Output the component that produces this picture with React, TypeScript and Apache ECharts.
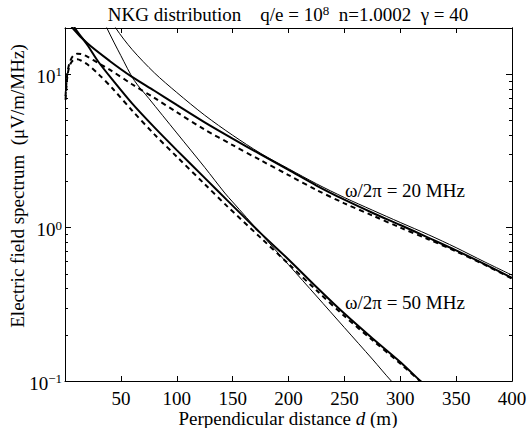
import React, { useEffect, useRef } from "react";
import * as echarts from "echarts";

// ---- axis ticks ----
const yMajorTicks = [0.1, 1, 10];
const yMinorTicks = [0.2, 0.3, 0.4, 0.5, 0.6, 0.7, 0.8, 0.9, 2, 3, 4, 5, 6, 7, 8, 9, 20];

// ---- 20 MHz curves (distance m, field µV/m/MHz) ----
const thick20D = [3, 7, 20, 40, 60, 80, 100, 125, 150, 175, 200, 225, 250, 275, 300, 325, 350, 375, 400];
const thick20E = [22.5, 19.9, 15.9, 12.2, 9.6, 7.8, 6.3, 4.85, 3.8, 3.0, 2.38, 1.88, 1.52, 1.25, 1.04, 0.86, 0.71, 0.58, 0.47];

const dashed20D = [0.5, 2, 4, 7, 11, 15, 20, 30, 40, 60, 80, 100, 125, 150, 175, 200, 225, 250, 275, 300, 325, 350, 375, 400];
const dashed20E = [7.2, 10.0, 11.8, 13.1, 13.6, 13.5, 13.0, 11.8, 10.7, 8.6, 7.0, 5.65, 4.35, 3.45, 2.75, 2.2, 1.76, 1.44, 1.2, 1.0, 0.84, 0.7, 0.575, 0.465];

const thin20D = [40, 45.6, 60, 80, 100, 125, 150, 175, 200, 225, 250, 275, 300, 325, 350, 375, 400];
const thin20E = [24, 19.9, 14.5, 10.2, 7.6, 5.4, 4.0, 3.05, 2.42, 1.93, 1.57, 1.3, 1.08, 0.9, 0.74, 0.6, 0.49];

// ---- 50 MHz curves ----
const thick50D = [5, 9, 20, 30, 43, 60, 80, 100, 125, 145, 175, 200, 225, 250, 275, 300, 318, 325];
const thick50E = [23, 19.9, 15.5, 12.0, 9.1, 6.45, 4.5, 3.2, 2.11, 1.51, 0.92, 0.62, 0.41, 0.275, 0.19, 0.133, 0.1, 0.09];

const dashed50D = [0.5, 2, 4, 7, 11, 15, 20, 30, 43, 60, 80, 100, 125, 145, 175, 200, 225, 250, 275, 300, 320, 328];
const dashed50E = [6.8, 9.5, 11.3, 12.3, 12.5, 12.2, 11.6, 10.0, 8.0, 5.8, 4.05, 2.9, 1.92, 1.38, 0.86, 0.58, 0.39, 0.265, 0.185, 0.13, 0.097, 0.09];

const thin50D = [33, 37.6, 50, 62, 75, 100, 125, 143, 150, 175, 200, 225, 250, 275, 292, 300];
const thin50E = [24, 19.9, 13.2, 9.1, 6.95, 4.14, 2.47, 1.68, 1.47, 0.918, 0.573, 0.358, 0.223, 0.139, 0.1, 0.088];

const FONT = "'Liberation Serif', 'DejaVu Serif', serif";
const NB = "\u00a0";

function pairs(d: number[], e: number[]) {
  return d.map((x, i) => [x, e[i]]);
}

function supLabel(v: number) {
  const exp = Math.round(Math.log10(v));
  const s = exp < 0 ? "\u2212" + String(-exp) : String(exp);
  return `{b|10}{s|${s}}`;
}

const richTick = {
  b: { fontSize: 19, fontFamily: FONT, color: "#000", lineHeight: 22 },
  s: { fontSize: 13, fontFamily: FONT, color: "#000", lineHeight: 8, verticalAlign: "top" },
};

const richTitle = {
  a: { fontSize: 19, fontFamily: FONT, fill: "#000", color: "#000", lineHeight: 20 },
  s: { fontSize: 13, fontFamily: FONT, fill: "#000", color: "#000", lineHeight: 8, verticalAlign: "top" },
};

const richName = {
  a: { fontSize: 19, fontFamily: FONT, color: "#000", lineHeight: 18 },
  i: { fontSize: 19, fontFamily: FONT, color: "#000", lineHeight: 18, fontStyle: "italic" },
};

export default function App() {
  const ref = useRef<HTMLDivElement>(null);
  useEffect(() => {
    if (!ref.current) return;
    const chart = echarts.init(ref.current, undefined, { renderer: "svg" });

    const axisLine = { show: true, onZero: false, lineStyle: { color: "#000", width: 1 } };

    const yBase = (position: string, ticks: number[], len: number, labels: boolean) => ({
      type: "log",
      logBase: 10,
      min: 0.1,
      max: 20,
      position,
      axisLine,
      splitLine: { show: false },
      axisTick: {
        show: true,
        inside: true,
        length: len,
        customValues: ticks,
        lineStyle: { color: "#000", width: 1 },
      },
      axisLabel: labels
        ? {
            show: true,
            customValues: yMajorTicks,
            margin: 3,
            padding: [4, 0, 0, 0],
            formatter: (v: number) => supLabel(v),
            rich: richTick,
          }
        : { show: false },
    });

    const lineSeries = (d: number[], e: number[], kind: "thick" | "thin" | "dashed") => ({
      type: "line",
      data: pairs(d, e),
      showSymbol: false,
      symbol: "none",
      smooth: 0.3,
      clip: true,
      xAxisIndex: 0,
      yAxisIndex: 0,
      lineStyle: {
        color: "#000",
        width: kind === "thin" ? 1 : 2,
        type: kind === "dashed" ? [5, 4] : "solid",
      },
      emphasis: { disabled: true },
    });

    chart.setOption({
      animation: false,
      backgroundColor: "#fff",
      grid: { left: 65, right: 18, top: 28, bottom: 47, containLabel: false },
      xAxis: [
        {
          type: "value",
          min: 0,
          max: 400,
          interval: 50,
          position: "bottom",
          axisLine,
          splitLine: { show: false },
          axisTick: { show: true, inside: true, length: 5, lineStyle: { color: "#000" } },
          axisLabel: {
            show: true,
            margin: 8,
            color: "#000",
            fontSize: 19,
            lineHeight: 18,
            fontFamily: FONT,
            formatter: (v: number) => (v === 0 ? "" : String(v)),
          },
        },
        {
          type: "value",
          min: 0,
          max: 400,
          interval: 50,
          position: "top",
          axisLine,
          splitLine: { show: false },
          axisTick: { show: true, inside: true, length: 5, lineStyle: { color: "#000" } },
          axisLabel: { show: false },
        },
      ],
      yAxis: [
        yBase("left", yMajorTicks, 6, true),
        yBase("left", yMinorTicks, 3, false),
        yBase("right", yMajorTicks, 6, false),
        yBase("right", yMinorTicks, 3, false),
      ],
      series: [
        lineSeries(thin20D, thin20E, "thin"),
        lineSeries(thin50D, thin50E, "thin"),
        lineSeries(dashed20D, dashed20E, "dashed"),
        lineSeries(dashed50D, dashed50E, "dashed"),
        lineSeries(thick20D, thick20E, "thick"),
        lineSeries(thick50D, thick50E, "thick"),
      ],
      graphic: [
        {
          type: "text",
          x: 288,
          y: 14,
          style: {
            text: `{a|NKG distribution${NB}${NB}${NB}${NB}q/e = 10}{s|8}{a|${NB}${NB}n=1.0002${NB}${NB}γ = 40}`,
            rich: richTitle,
            align: "center",
            verticalAlign: "middle",
          },
        },
        {
          type: "text",
          x: 288,
          y: 418,
          style: {
            text: `{a|Perpendicular distance${NB}}{i|d}{a|${NB}(m)}`,
            rich: richName,
            align: "center",
            verticalAlign: "middle",
          },
        },
        {
          type: "text",
          x: 17,
          y: 186,
          rotation: Math.PI / 2,
          style: {
            text: `Electric field spectrum${NB}${NB}(μV/m/MHz)`,
            fontSize: 19,
            fontFamily: FONT,
            fill: "#000",
            align: "center",
            verticalAlign: "middle",
          },
        },
        {
          type: "text",
          x: 345,
          y: 190,
          style: {
            text: "ω/2π = 20 MHz",
            fontSize: 19,
            fontFamily: FONT,
            fill: "#000",
            align: "left",
            verticalAlign: "middle",
          },
        },
        {
          type: "text",
          x: 345,
          y: 302,
          style: {
            text: "ω/2π = 50 MHz",
            fontSize: 19,
            fontFamily: FONT,
            fill: "#000",
            align: "left",
            verticalAlign: "middle",
          },
        },
      ],
    });

    return () => chart.dispose();
  }, []);

  return (
    <div
      ref={ref}
      style={{ position: "fixed", left: 0, top: 0, width: 530, height: 428, background: "#fff" }}
    />
  );
}
